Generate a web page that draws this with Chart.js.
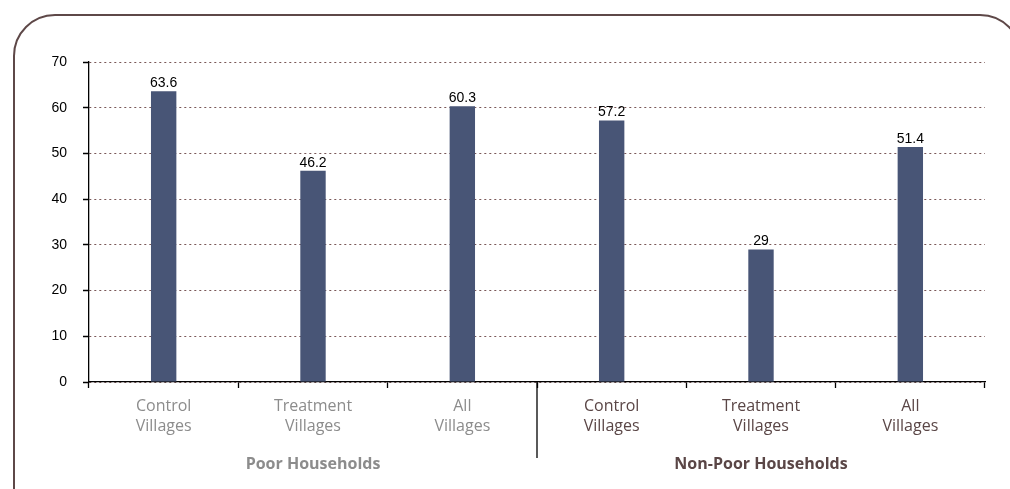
<!DOCTYPE html>
<html>
<head>
<meta charset="utf-8">
<script src="https://cdn.jsdelivr.net/npm/chart.js@4"></script>
<style>
  html, body { margin: 0; padding: 0; background: #fff; overflow: hidden; }
  #wrap { position: relative; width: 1010px; height: 489px; overflow: hidden; }
  #frame {
    position: absolute; left: 13px; top: 14px; width: 1009px; height: 520px;
    border: 2px solid #5e4848; border-radius: 42px; box-sizing: border-box;
  }
  canvas { position: absolute; left: 0; top: 0; }
</style>
</head>
<body>
<div id="wrap">
  <div id="frame"></div>
  <canvas id="chart" width="1010" height="489"></canvas>
</div>
<script>
const categories = [
  ['Control', 'Villages'], ['Treatment', 'Villages'], ['All', 'Villages'],
  ['Control', 'Villages'], ['Treatment', 'Villages'], ['All', 'Villages']
];
const values = [63.6, 46.2, 60.3, 57.2, 29, 51.4];
const groups = ['Poor Households', 'Non-Poor Households'];
const yTicks = [0, 10, 20, 30, 40, 50, 60, 70];

const grayText = '#8c8c8c';
const brownText = '#5a4646';

// value labels, group labels and the separator between groups
const extras = {
  id: 'extras',
  afterDatasetsDraw(chart) {
    const c = chart.ctx;
    const meta = chart.getDatasetMeta(0);
    c.save();
    c.font = '14px Arial';
    c.fillStyle = '#000';
    c.textAlign = 'center';
    c.textBaseline = 'bottom';
    meta.data.forEach((bar, i) => {
      c.fillText(String(values[i]), bar.x, bar.y - 1);
    });

    const x = chart.scales.x;
    const area = chart.chartArea;
    const sep = (x.getPixelForValue(2) + x.getPixelForValue(3)) / 2;
    c.strokeStyle = '#000';
    c.lineWidth = 1.3;
    c.beginPath();
    c.moveTo(sep, area.bottom);
    c.lineTo(sep, area.bottom + 76);
    c.stroke();

    c.font = 'bold 16px "Open Sans"';
    c.textBaseline = 'middle';
    c.fillStyle = grayText;
    c.fillText(groups[0], (area.left + sep) / 2, 464);
    c.fillStyle = brownText;
    c.fillText(groups[1], (sep + area.right) / 2, 464);
    c.restore();
  }
};

new Chart(document.getElementById('chart'), {
  type: 'bar',
  data: {
    labels: categories,
    datasets: [{
      data: values,
      backgroundColor: '#485576',
      barPercentage: 0.17,
      categoryPercentage: 1
    }]
  },
  options: {
    responsive: false,
    animation: false,
    layout: { padding: { top: 62, right: 25, bottom: 0, left: 0 } },
    plugins: { legend: { display: false }, tooltip: { enabled: false } },
    scales: {
      x: {
        afterFit: s => { s.height = 107; },
        grid: {
          offset: true,
          drawOnChartArea: false,
          tickLength: 6,
          tickColor: '#000',
          tickWidth: 1.3
        },
        border: { color: '#000', width: 1.3 },
        ticks: {
          padding: 8,
          color: ctx => ctx.index < 3 ? grayText : brownText,
          font: { family: 'Open Sans', size: 16, lineHeight: 1.25 }
        }
      },
      y: {
        min: 0,
        max: 70,
        afterFit: s => { s.width = 89; },
        afterBuildTicks: s => { s.ticks = yTicks.map(v => ({ value: v })); },
        grid: {
          color: '#7a5858',
          lineWidth: 1,
          tickLength: 6,
          tickColor: '#000',
          tickWidth: 1.5
        },
        border: { color: '#000', width: 1.3, dash: [2, 3] },
        ticks: {
          padding: 16,
          color: '#000',
          font: { family: 'Arial', size: 14 }
        }
      }
    }
  },
  plugins: [extras]
});
</script>
</body>
</html>
